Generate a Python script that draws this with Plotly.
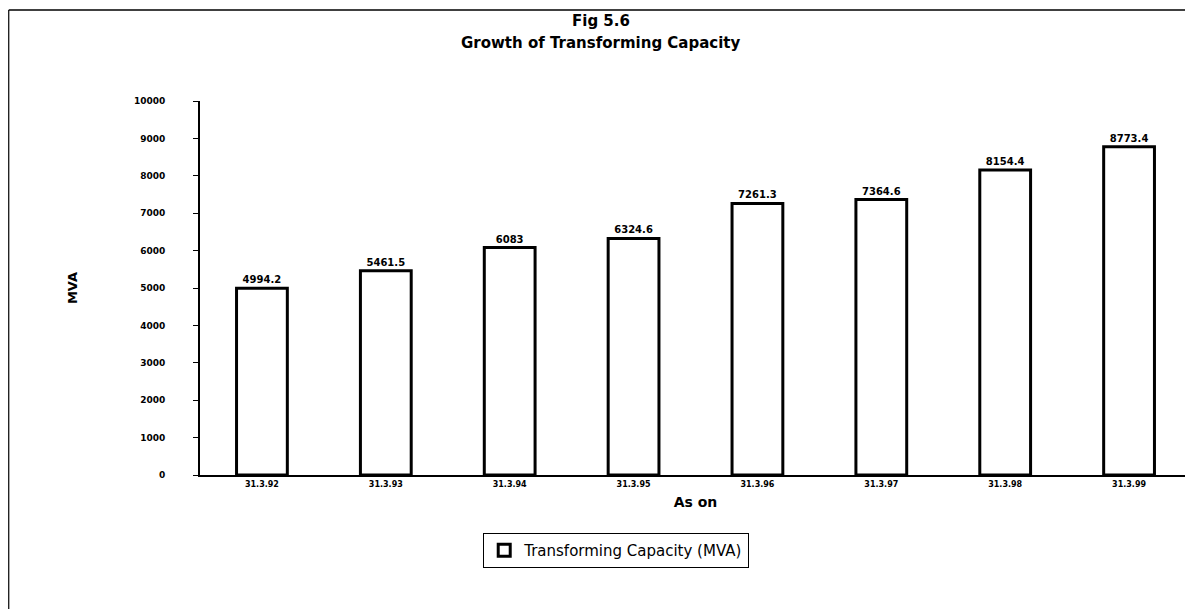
import plotly.graph_objects as go

dates = ["31.3.92", "31.3.93", "31.3.94", "31.3.95", "31.3.96", "31.3.97", "31.3.98", "31.3.99"]
capacity = [4994.2, 5461.5, 6083, 6324.6, 7261.3, 7364.6, 8154.4, 8773.4]
y_ticks = [0, 1000, 2000, 3000, 4000, 5000, 6000, 7000, 8000, 9000, 10000]
series_name = "Transforming Capacity (MVA)"
title_lines = ["Fig 5.6", "Growth of Transforming Capacity"]

FONT = "DejaVu Sans, Liberation Sans, Arial"

fig = go.Figure()
fig.add_trace(go.Bar(
    x=dates, y=capacity, name=series_name,
    marker=dict(color="white", line=dict(color="black", width=3)),
    text=[f"{v:g}" for v in capacity], textposition="outside",
    textfont=dict(family=FONT, size=10, color="black", weight="bold"),
    cliponaxis=False, showlegend=True,
))

fig.update_layout(
    width=1193, height=609,
    margin=dict(l=192, r=10, t=93, b=142, autoexpand=False),
    paper_bgcolor="white", plot_bgcolor="white",
    font=dict(family=FONT, color="black"),
    bargap=0.59,
    xaxis=dict(
        showline=True, linecolor="black", linewidth=2, ticks="", showgrid=False,
        automargin=False,
        tickfont=dict(size=8, color="black", weight="bold"),
        title=dict(text="<b>As on</b>", font=dict(size=14), standoff=10),
    ),
    yaxis=dict(
        range=[0, 10000], tickvals=y_ticks, tickformat="d", showline=True,
        linecolor="black", linewidth=2, automargin=False,
        ticks="outside", ticklen=5, tickcolor="black", showgrid=False, zeroline=False,
        ticklabelstandoff=26,
        tickfont=dict(size=9, color="black", weight="bold"),
        title=dict(text="<b>MVA</b>", font=dict(size=13), standoff=53),
    ),
    legend=dict(
        orientation="h", x=0.42, xanchor="center", y=-0.155, yanchor="top",
        bordercolor="black", borderwidth=1, font=dict(size=15, color="black"),
        bgcolor="white",
    ),
    annotations=[
        dict(text=f"<b>{title_lines[0]}</b>", xref="paper", yref="paper", x=0.405, y=1.215,
             xanchor="center", yanchor="middle", showarrow=False,
             font=dict(size=15, family=FONT, color="black")),
        dict(text=f"<b>{title_lines[1]}</b>", xref="paper", yref="paper", x=0.405, y=1.155,
             xanchor="center", yanchor="middle", showarrow=False,
             font=dict(size=15, family=FONT, color="black")),
    ],
    shapes=[
        dict(type="line", xref="paper", yref="paper", x0=-0.193, x1=1.02, y0=1.243, y1=1.243,
             line=dict(color="black", width=1.5)),
        dict(type="line", xref="paper", yref="paper", x0=-0.193, x1=-0.193, y0=1.243, y1=-0.36,
             line=dict(color="black", width=1.2)),
    ],
)

fig.write_html("out.html")
